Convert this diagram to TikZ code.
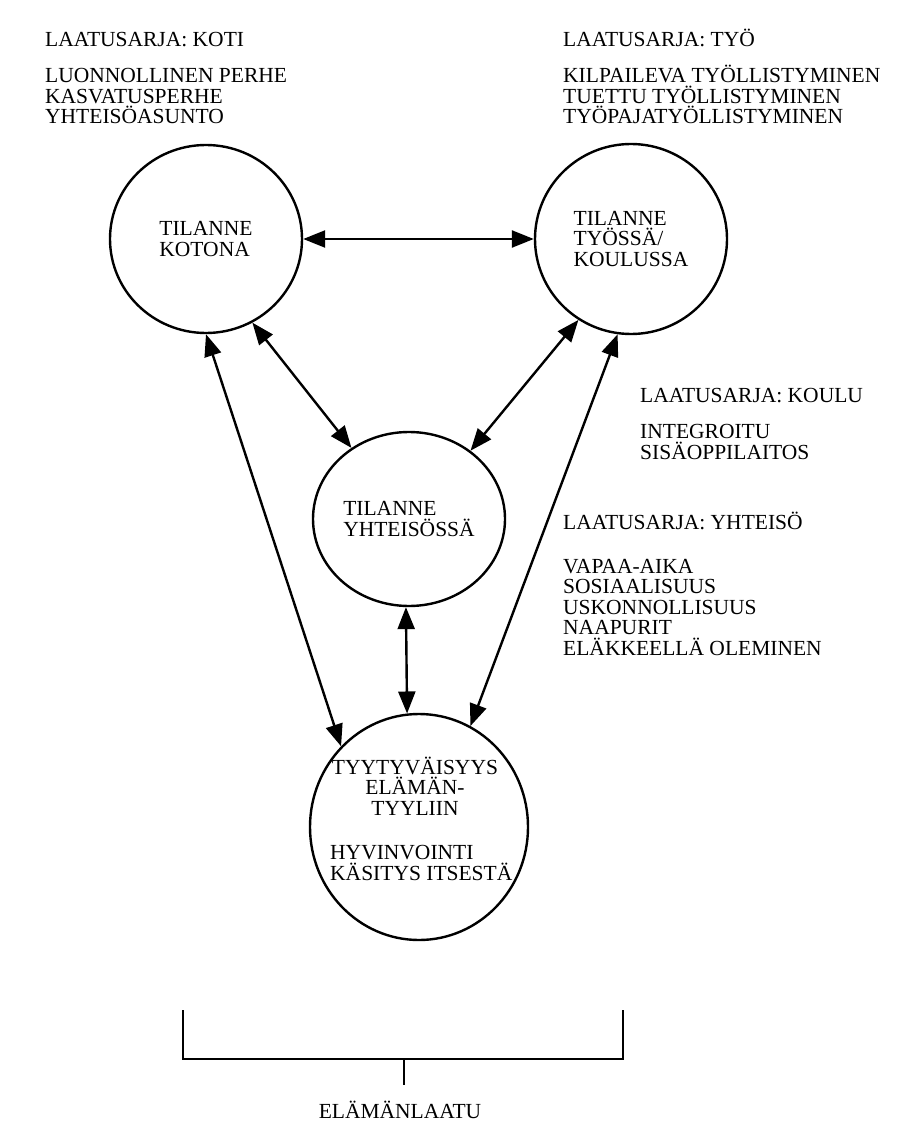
\documentclass[tikz,border=0pt]{standalone}
\usepackage{fontspec}
\setmainfont{Liberation Serif}
\usetikzlibrary{arrows.meta,shapes.geometric,positioning}

\begin{document}
\begin{tikzpicture}[
x=1pt, y=-1pt,
every node/.style={font=\fontsize{21.5}{20.5}\selectfont, inner sep=0pt},
lista/.style={align=left, anchor=base west},
ring/.style={draw, ellipse, line width=2.4pt, inner sep=0pt, align=left},
arrow/.style={{Triangle[length=22pt,width=17pt]}-{Triangle[length=22pt,width=17pt]}, line width=2.4pt},
bracket/.style={line width=2.2pt}
]
\useasboundingbox (0,0) rectangle (906,1131);

% Quality series - home and work (lists anchored at their last line)
\node[lista] (kotihead) at (45,47) {LAATUSARJA: KOTI};
\node[lista] (kotilist) at (45,124) {LUONNOLLINEN PERHE\\KASVATUSPERHE\\YHTEISÖASUNTO};
\node[lista] (tyohead) at (563,47) {LAATUSARJA: TYÖ};
\node[lista] (tyolist) at (563,124) {KILPAILEVA TYÖLLISTYMINEN\\TUETTU TYÖLLISTYMINEN\\TYÖPAJATYÖLLISTYMINEN};

% Quality series - school and community
\node[lista] (kouluhead) at (640,402) {LAATUSARJA: KOULU};
\node[lista] (koululist) at (640,459) {INTEGROITU\\SISÄOPPILAITOS};
\node[lista] (yhthead) at (563,529) {LAATUSARJA: YHTEISÖ};
\node[lista] (yhtlist) at (563,655) {VAPAA-AIKA\\SOSIAALISUUS\\USKONNOLLISUUS\\NAAPURIT\\ELÄKKEELLÄ OLEMINEN};

% Situations
\node[ring, minimum width=192pt, minimum height=188pt] (kotona) at (206,239) {TILANNE\\KOTONA};
\node[ring, minimum width=192pt, minimum height=190pt] (tyossa) at (631,239) {TILANNE\\TYÖSSÄ/\\KOULUSSA};
\node[ring, minimum width=192pt, minimum height=174pt] (yhteis) at (409,519) {TILANNE\\YHTEISÖSSÄ};

% Satisfaction
\node[ring, minimum width=218pt, minimum height=226pt] (tyyt) at (419,827) {};
\node[align=center, anchor=base] (tyyttop) at (415,815) {TYYTYVÄISYYS\\ELÄMÄN-\\TYYLIIN};
\node[lista] (tyytbot) at (330,880) {HYVINVOINTI\\KÄSITYS ITSESTÄ};

% Arrows between situations
\draw[arrow] (kotona.0) -- (tyossa.180);
\draw[arrow] (kotona.-61.6) -- (yhteis.129.7);
\draw[arrow] (tyossa.-123.2) -- (yhteis.48.5);
\draw[arrow] (kotona.-90.6) -- (tyyt.134);
\draw[arrow] (yhteis.-92.6) -- (tyyt.96.9);
\draw[arrow] (tyossa.-98.3) -- (tyyt.63);

% Quality of life bracket
\coordinate (bl) at (183,1010);
\coordinate (br) at (623,1010);
\coordinate (bm) at (404,1059);
\coordinate (bs) at (404,1085);
\node[anchor=base] (laatu) at (400,1118) {ELÄMÄNLAATU};
\draw[bracket] (bl) |- (br |- bm) -- (br);
\draw[bracket] (bm) -- (bs);

\end{tikzpicture}
\end{document}
